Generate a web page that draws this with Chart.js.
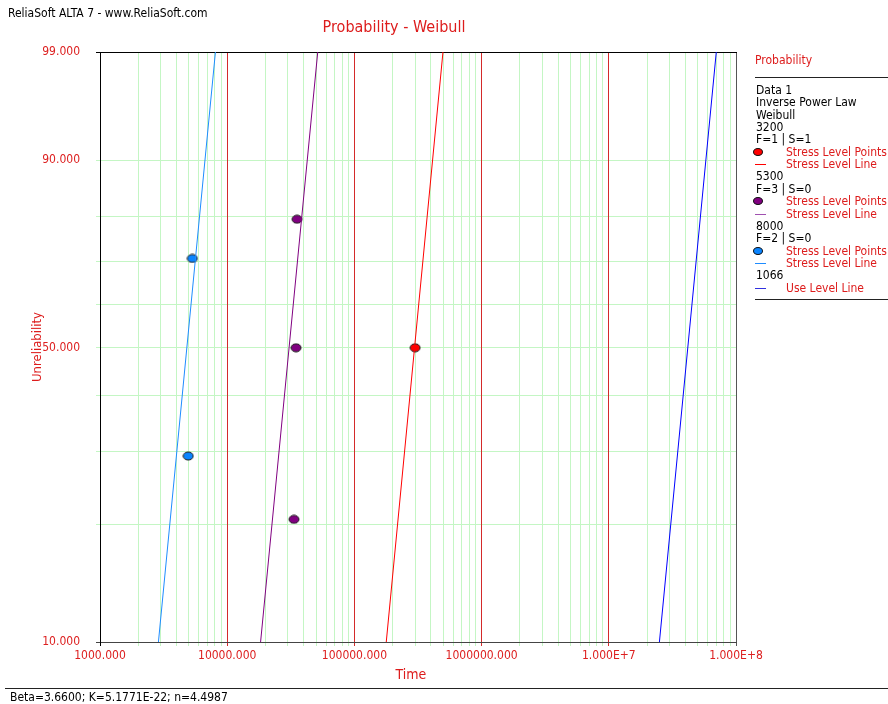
<!DOCTYPE html>
<html>
<head>
<meta charset="utf-8">
<script src="https://cdn.jsdelivr.net/npm/chart.js@4.4.1/dist/chart.umd.min.js"></script>
<style>
body{margin:0;background:#fff;font-family:"DejaVu Sans Condensed","DejaVu Sans",sans-serif;}
#wrap{position:relative;width:888px;height:704px;overflow:hidden;}
canvas{position:absolute;left:0;top:0;}
.t{position:absolute;white-space:nowrap;font-size:12px;line-height:14px;color:#000;}
.red{color:#dd1c1c;}
.hr{position:absolute;height:1px;background:#222;}
.sym{position:absolute;}
</style>
</head>
<body>
<div id="wrap">
<canvas id="c" width="888" height="704"></canvas>
<div class="t" style="left:8px;top:6px">ReliaSoft ALTA 7 - www.ReliaSoft.com</div>
<div class="t red" style="left:0;width:788px;text-align:center;top:17px;font-size:16px;line-height:20px">Probability - Weibull</div>
<div class="t red" style="left:371px;width:80px;text-align:center;top:666px;font-size:14px;line-height:16px">Time</div>
<div class="hr" style="left:5px;width:883px;top:688px"></div>
<div class="t" style="left:10px;top:690px">Beta=3.6600; K=5.1771E-22; n=4.4987</div>
<div id="legend"></div>
</div>
<script>
// x axis: time, log decades
const decadeTicks = [1000, 10000, 100000, 1000000, 10000000, 100000000];
const decadeLabels = ['1000.000', '10000.000', '100000.000', '1000000.000', '1.000E+7', '1.000E+8'];
// y axis: unreliability (%), weibull paper
const probGrid = [10, 20, 30, 40, 50, 60, 70, 80, 90, 99];
const probTicks = [10, 50, 90, 99];
const probTickLabels = ['10.000', '50.000', '90.000', '99.000'];

// stress level points (time, unreliability %)
const pts3200Time = [300000];
const pts3200Unrel = [50];
const pts5300Time = [33500, 34750, 35400];
const pts5300Unrel = [20.63, 50, 79.37];
const pts8000Time = [4940, 5320];
const pts8000Unrel = [29.29, 70.71];

// fitted lines, ends read at 10% and 99%
const lineUnrel = [10, 99];
const line3200Time = [178000, 497000];
const line5300Time = [18300, 51500];
const line8000Time = [2880, 8080];
const line1066Time = [25000000, 70000000];

const wb = p => Math.log(-Math.log(1 - p / 100));

class WeibullScale extends Chart.LinearScale {
  buildTicks() {
    this.start = this.min;
    this.end = this.max;
    return probGrid.map(v => ({value: v}));
  }
  getPixelForValue(v) {
    const a = wb(this.min), b = wb(this.max);
    return this.getPixelForDecimal((wb(v) - a) / (b - a));
  }
  getValueForPixel(px) {
    const a = wb(this.min), b = wb(this.max);
    const w = a + this.getDecimalForPixel(px) * (b - a);
    return 100 * (1 - Math.exp(-Math.exp(w)));
  }
}
WeibullScale.id = 'weibull';
WeibullScale.defaults = Chart.LinearScale.defaults;
Chart.register(WeibullScale);

function ellipse(fill) {
  const c = document.createElement('canvas');
  c.width = 12; c.height = 10;
  const g = c.getContext('2d');
  g.beginPath();
  g.ellipse(6, 5, 5, 4, 0, 0, Math.PI * 2);
  g.fillStyle = fill; g.fill();
  g.lineWidth = 1; g.strokeStyle = '#1a1a1a'; g.stroke();
  return c;
}

const xy = (ts, ps) => ts.map((t, i) => ({x: t, y: ps[i]}));

const RED = '#ff0000', PURPLE = '#800080', BLUE = '#1e8cff', USE = '#0000ff';

function lineSet(ts, col) {
  return {data: xy(ts, lineUnrel), showLine: true, borderColor: col, borderWidth: 1, pointRadius: 0};
}
function ptSet(ts, ps, col) {
  return {data: xy(ts, ps), showLine: false, pointStyle: ellipse(col), pointRadius: 5};
}

// grid lines for log x axis: 1..9 in every decade
const xGrid = [];
decadeTicks.forEach((d, i) => {
  if (i === decadeTicks.length - 1) { xGrid.push(d); return; }
  for (let k = 1; k <= 9; k++) xGrid.push(k * d);
});

const xGridColor = v => {
  if (v === decadeTicks[0]) return '#000';
  if (v === decadeTicks[decadeTicks.length - 1]) return '#555';
  if (decadeTicks.includes(v)) return '#d42a2a';
  return '#c4f6c4';
};
const yGridColor = v => {
  if (v === 99) return '#000';
  if (v === 10) return '#444';
  return '#c4f6c4';
};

// top and right edges of the plot frame, over the grid
const frame = {
  id: 'frame',
  beforeDatasetsDraw(chart) {
    const {ctx, chartArea: a} = chart;
    ctx.save();
    ctx.lineWidth = 1;
    ctx.strokeStyle = '#555';
    ctx.beginPath(); ctx.moveTo(a.right + 0.5, a.top); ctx.lineTo(a.right + 0.5, a.bottom); ctx.stroke();
    ctx.strokeStyle = '#000';
    ctx.beginPath(); ctx.moveTo(a.left - 4, a.top + 0.5); ctx.lineTo(a.right + 1, a.top + 0.5); ctx.stroke();
    ctx.restore();
  }
};

new Chart(document.getElementById('c'), {
  type: 'line',
  data: {
    datasets: [
      lineSet(line8000Time, BLUE),
      lineSet(line5300Time, PURPLE),
      lineSet(line3200Time, RED),
      lineSet(line1066Time, USE),
      ptSet(pts8000Time, pts8000Unrel, '#0a84ff'),
      ptSet(pts5300Time, pts5300Unrel, PURPLE),
      ptSet(pts3200Time, pts3200Unrel, RED)
    ]
  },
  options: {
    responsive: false,
    animation: false,
    layout: {padding: {top: 52, right: 152, left: 0, bottom: 16}},
    plugins: {legend: {display: false}, tooltip: {enabled: false}},
    scales: {
      x: {
        type: 'logarithmic',
        min: 1000, max: 100000000,
        afterBuildTicks: s => { s.ticks = xGrid.map(v => ({value: v})); },
        afterFit: s => { s.height = 46; },
        grid: {z: -1, color: c => xGridColor(c.tick.value), tickLength: 4, lineWidth: 1},
        border: {color: '#444'},
        ticks: {
          autoSkip: false, maxRotation: 0, padding: 3,
          color: '#dd2020', font: {family: '"DejaVu Sans Condensed","DejaVu Sans"', size: 12},
          callback: v => { const i = decadeTicks.indexOf(v); return i < 0 ? '' : decadeLabels[i]; }
        }
      },
      y: {
        type: 'weibull',
        min: 10, max: 99,
        afterFit: s => { s.width = 100; },
        grid: {z: -2, color: c => yGridColor(c.tick.value), tickLength: 4, lineWidth: 1},
        border: {color: '#000'},
        title: {display: true, text: 'Unreliability', color: '#dd1c1c', padding: {top: 30},
          font: {family: '"DejaVu Sans Condensed","DejaVu Sans"', size: 13}},
        ticks: {
          autoSkip: false, padding: 16,
          color: '#dd2020', font: {family: '"DejaVu Sans Condensed","DejaVu Sans"', size: 12},
          callback: v => { const i = probTicks.indexOf(v); return i < 0 ? '' : probTickLabels[i]; }
        }
      }
    }
  },
  plugins: [frame]
});

// legend panel on the right
const legendRows = [
  ['text', 'Data 1'], ['text', 'Inverse Power Law'], ['text', 'Weibull'],
  ['text', '3200'], ['text', 'F=1 | S=1'], ['pt', 'Stress Level Points', RED], ['ln', 'Stress Level Line', RED],
  ['text', '5300'], ['text', 'F=3 | S=0'], ['pt', 'Stress Level Points', PURPLE], ['ln', 'Stress Level Line', '#a050b0'],
  ['text', '8000'], ['text', 'F=2 | S=0'], ['pt', 'Stress Level Points', '#0a84ff'], ['ln', 'Stress Level Line', BLUE],
  ['text', '1066'], ['ln', 'Use Level Line', '#3030e0']
];
const lg = document.getElementById('legend');
let html = '<div class="t red" style="left:755px;top:53px">Probability</div>' +
  '<div class="hr" style="left:755px;width:133px;top:77px"></div>';
legendRows.forEach((r, i) => {
  const cy = 90 + i * 12.35;
  const top = Math.round(cy - 7);
  if (r[0] === 'text') {
    html += `<div class="t" style="left:756px;top:${top}px">${r[1]}</div>`;
  } else {
    html += `<div class="t red" style="left:786px;top:${top}px">${r[1]}</div>`;
    if (r[0] === 'pt') {
      html += `<div class="sym" style="left:753px;top:${Math.round(cy - 4)}px;width:8px;height:6px;border:1px solid #111;border-radius:50%;background:${r[2]}"></div>`;
    } else {
      html += `<div class="sym" style="left:755px;top:${Math.round(cy)}px;width:11px;height:1px;background:${r[2]}"></div>`;
    }
  }
});
html += '<div class="hr" style="left:755px;width:133px;top:299px"></div>';
lg.innerHTML = html;
</script>
</body>
</html>
